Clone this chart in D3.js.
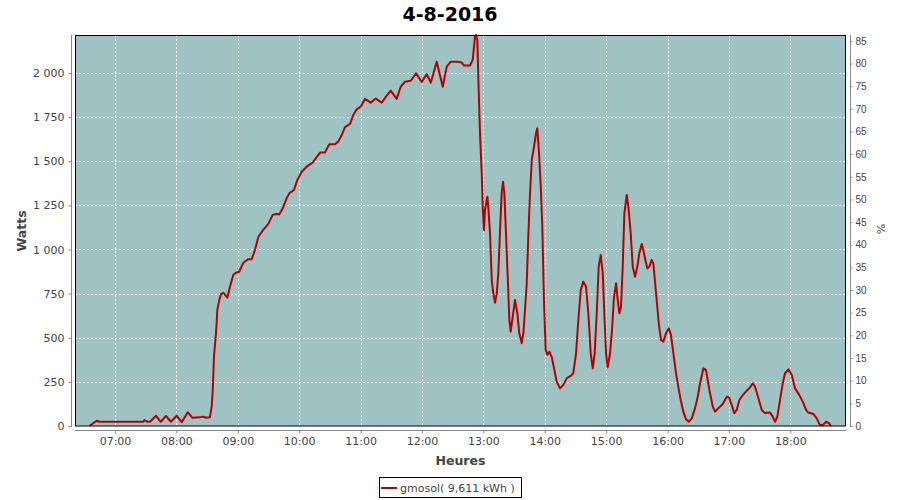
<!DOCTYPE html>
<html>
<head>
<meta charset="utf-8">
<script src="https://cdn.jsdelivr.net/npm/d3@7"></script>
<style>
  html, body { margin: 0; padding: 0; background: #ffffff; }
  svg { display: block; }
  text { font-family: "DejaVu Sans", sans-serif; }
</style>
</head>
<body>
<svg id="chart" width="900" height="500"></svg>
<script>
// ---- Data ----
const chartTitle = "4-8-2016";
const seriesName = "gmosol( 9,611 kWh )";
const yLabel = "Watts";
const y2Label = "%";
const xLabel = "Heures";

// time of each sample, minutes after midnight
const times = [
  394.9, 402.1, 404.7, 447.7, 448.8, 451.3, 454.2, 460.1, 464.7, 469.8,
  474.7, 480.3, 485.2, 491.1, 495.5, 503.1, 506.0, 508.9, 512.8, 514.5,
  515.5, 516.8, 518.7, 520.0, 521.9, 523.6, 525.8, 529.8, 532.4, 535.6,
  538.0, 541.5, 545.4, 550.3, 553.6, 556.8, 560.1, 564.9, 569.8, 574.1,
  577.4, 580.6, 583.9, 587.8, 590.4, 594.9, 598.2, 602.5, 607.3, 613.2,
  616.4, 620.4, 625.2, 629.4, 635.0, 638.2, 641.6, 644.8, 649.7, 652.9,
  656.2, 660.1, 664.3, 669.9, 674.8, 680.7, 684.9, 689.5, 695.3, 699.2,
  703.4, 709.0, 714.2, 719.8, 724.6, 728.6, 734.4, 740.3, 744.2, 748.1,
  754.0, 758.9, 761.1, 767.0, 769.6, 771.8, 772.8, 774.1, 775.5, 776.7,
  778.4, 779.4, 780.6, 781.6, 783.9, 784.8, 786.5, 788.2, 789.7, 791.4,
  793.1, 794.6, 796.3, 797.9, 799.2, 800.5, 802.1, 803.8, 805.4, 806.7,
  808.7, 810.9, 813.2, 815.1, 817.5, 819.1, 820.7, 822.4, 823.9, 825.6,
  827.3, 829.5, 831.5, 832.7, 834.4, 836.1, 837.6, 839.3, 840.9, 842.5,
  844.5, 846.8, 849.4, 851.7, 854.9, 858.2, 861.5, 865.4, 867.9, 870.6,
  872.8, 875.2, 877.7, 880.3, 882.6, 884.9, 886.9, 888.8, 890.8, 892.7,
  894.7, 896.7, 898.2, 899.9, 901.5, 903.8, 905.7, 907.7, 909.7, 911.3,
  912.9, 914.5, 916.2, 917.8, 920.1, 921.7, 924.0, 926.0, 928.2, 930.5,
  932.4, 934.8, 936.3, 938.3, 940.2, 942.2, 944.5, 946.1, 948.8, 951.4,
  953.6, 955.9, 958.5, 961.2, 963.4, 965.7, 968.3, 970.5, 972.9, 975.4,
  978.1, 980.7, 983.7, 986.9, 989.5, 991.8, 995.0, 997.6, 1000.9, 1004.2,
  1006.4, 1009.7, 1013.9, 1017.9, 1020.1, 1022.7, 1025.3, 1027.6, 1030.2, 1033.5,
  1037.4, 1040.6, 1043.3, 1045.5, 1048.8, 1052.1, 1055.3, 1060.2, 1062.8, 1065.1,
  1067.3, 1069.9, 1072.6, 1074.8, 1078.1, 1081.4, 1084.6, 1088.8, 1092.1, 1095.4,
  1097.6, 1102.5, 1105.8, 1109.0, 1111.7, 1114.9, 1118.1, 1119.5
];

// power in watts for each sample
const watts = [
  0, 30, 24, 24, 34, 24, 24, 58, 24, 57,
  24, 58, 22, 78, 47, 49, 53, 47, 50, 113,
  200, 400, 525, 657, 714, 747, 755, 727, 790, 856,
  868, 874, 925, 945, 945, 997, 1072, 1111, 1145, 1196,
  1201, 1199, 1233, 1291, 1319, 1337, 1394, 1440, 1469, 1492,
  1517, 1549, 1549, 1596, 1596, 1611, 1648, 1693, 1711, 1762,
  1794, 1809, 1853, 1832, 1855, 1832, 1866, 1900, 1853, 1922,
  1950, 1956, 1998, 1949, 1994, 1945, 2064, 1922, 2036, 2064,
  2064, 2059, 2042, 2042, 2074, 2206, 2215, 2186, 1885, 1659,
  1431, 1242, 1110, 1224, 1299, 1242, 1091, 827, 751, 698,
  751, 865, 1110, 1319, 1384, 1319, 1091, 846, 601, 534,
  620, 714, 639, 525, 469, 525, 657, 809, 1072, 1319,
  1507, 1582, 1659, 1687, 1545, 1356, 1130, 695, 431, 403,
  421, 392, 317, 251, 213, 233, 271, 284, 299, 412,
  601, 771, 818, 790, 639, 412, 327, 412, 639, 902,
  969, 865, 639, 412, 332, 412, 543, 732, 809, 714,
  639, 676, 902, 1205, 1309, 1242, 1091, 902, 846, 902,
  979, 1031, 997, 941, 893, 902, 941, 922, 751, 582,
  487, 478, 525, 553, 515, 412, 299, 222, 147, 81,
  38, 24, 43, 101, 166, 242, 327, 317, 204, 110,
  81, 101, 125, 166, 162, 119, 73, 91, 147, 175,
  200, 219, 242, 222, 157, 91, 73, 76, 53, 24,
  53, 147, 242, 299, 321, 289, 213, 175, 138, 91,
  76, 68, 43, 5, 5, 24, 15, 0
];

const leftTicks = [0, 250, 500, 750, 1000, 1250, 1500, 1750, 2000];
const rightTicks = [0, 5, 10, 15, 20, 25, 30, 35, 40, 45, 50, 55, 60, 65, 70, 75, 80, 85];
const hourTicks = [7, 8, 9, 10, 11, 12, 13, 14, 15, 16, 17, 18];

// ---- Layout ----
const plot = { left: 75, right: 846, top: 35, bottom: 426 };
const day = new Date(2016, 7, 4);
const toDate = m => new Date(day.getTime() + m * 60000);

const x = d3.scaleTime()
  .domain([toDate(380.9), toDate(1134.4)])
  .range([plot.left, plot.right]);
const y = d3.scaleLinear().domain([0, 2215]).range([plot.bottom, plot.top]);
const y2 = d3.scaleLinear().domain([0, 86.3]).range([plot.bottom, plot.top]);

const locale = d3.formatLocale({ decimal: ",", thousands: "\u00a0", grouping: [3], currency: ["", ""] });
const fmtW = locale.format(",d");

const svg = d3.select("#chart");
const textColor = "#444444";
const axisColor = "#888888";

// Title
svg.append("text")
  .attr("x", 450).attr("y", 21)
  .attr("text-anchor", "middle")
  .style("font-size", "19px").style("font-weight", "bold")
  .attr("fill", "#000")
  .text(chartTitle);

// Plot background
svg.append("rect")
  .attr("x", plot.left).attr("y", plot.top)
  .attr("width", plot.right - plot.left).attr("height", plot.bottom - plot.top)
  .attr("fill", "#9fc3c3");

// Gridlines
const grid = svg.append("g").attr("stroke", "#ffffff").attr("stroke-width", 1)
  .attr("stroke-dasharray", "2,2").attr("shape-rendering", "crispEdges");
hourTicks.forEach(h => {
  const px = Math.round(x(toDate(h * 60))) + 0.5;
  grid.append("line").attr("x1", px).attr("x2", px).attr("y1", plot.top).attr("y2", plot.bottom);
});
leftTicks.filter(v => v > 0).forEach(v => {
  const py = Math.round(y(v)) + 0.5;
  grid.append("line").attr("x1", plot.left).attr("x2", plot.right).attr("y1", py).attr("y2", py);
});

// Line
svg.append("clipPath").attr("id", "clip")
  .append("rect").attr("x", plot.left).attr("y", plot.top - 1)
  .attr("width", plot.right - plot.left).attr("height", plot.bottom - plot.top + 1);

const data = times.map((t, i) => ({ t: toDate(t), w: watts[i] }));
const line = d3.line().x(d => x(d.t)).y(d => y(d.w));
svg.append("path")
  .datum(data)
  .attr("clip-path", "url(#clip)")
  .attr("fill", "none")
  .attr("stroke", "#b30000")
  .attr("stroke-width", 2)
  .attr("stroke-linejoin", "round")
  .attr("d", line);

// Plot border
svg.append("rect")
  .attr("x", plot.left + 0.5).attr("y", plot.top + 0.5)
  .attr("width", plot.right - plot.left - 1).attr("height", plot.bottom - plot.top - 0.5)
  .attr("fill", "none").attr("stroke", "#000").attr("stroke-width", 1);

// Left axis
const yAxis = d3.axisLeft(y).tickValues(leftTicks).tickFormat(fmtW).tickSize(3).tickPadding(4);
const gL = svg.append("g").attr("transform", "translate(71.5,0)").call(yAxis);
gL.select(".domain").attr("stroke", axisColor).attr("d", `M0,${plot.top}V${plot.bottom + 1}`);
gL.selectAll(".tick line").attr("stroke", axisColor);
gL.selectAll(".tick text").attr("fill", textColor).style("font-size", "11px")
  .style("font-family", "DejaVu Sans, sans-serif");

// Right axis
const y2Axis = d3.axisRight(y2).tickValues(rightTicks).tickFormat(d3.format("d")).tickSize(2).tickPadding(3);
const gR = svg.append("g").attr("transform", "translate(850.5,0)").call(y2Axis);
gR.select(".domain").attr("stroke", axisColor).attr("d", `M0,${plot.top}V${plot.bottom + 1}`);
gR.selectAll(".tick line").attr("stroke", axisColor);
gR.selectAll(".tick text").attr("fill", textColor).style("font-size", "10px")
  .style("font-family", "Liberation Sans, Arial, sans-serif");

// Bottom axis
const xAxis = d3.axisBottom(x)
  .tickValues(hourTicks.map(h => toDate(h * 60)))
  .tickFormat(d3.timeFormat("%H:%M")).tickSize(3).tickPadding(4);
const gB = svg.append("g").attr("transform", "translate(0,430.5)").call(xAxis);
gB.select(".domain").attr("stroke", axisColor).attr("d", `M${plot.left},0H${plot.right}`);
gB.selectAll(".tick line").attr("stroke", axisColor);
gB.selectAll(".tick text").attr("fill", textColor).style("font-size", "11px")
  .style("font-family", "DejaVu Sans, sans-serif");

// Axis titles
svg.append("text")
  .attr("transform", "translate(25.5,231) rotate(-90)")
  .attr("text-anchor", "middle")
  .style("font-size", "12.5px").style("font-weight", "bold")
  .attr("fill", textColor)
  .text(yLabel);

svg.append("text")
  .attr("transform", "translate(877,229) rotate(90)")
  .attr("text-anchor", "middle")
  .style("font-size", "11px")
  .attr("fill", textColor)
  .text(y2Label);

svg.append("text")
  .attr("x", (plot.left + plot.right) / 2).attr("y", 465)
  .attr("text-anchor", "middle")
  .style("font-size", "12.5px").style("font-weight", "bold")
  .attr("fill", textColor)
  .text(xLabel);

// Legend
const lg = svg.append("g");
lg.append("rect")
  .attr("x", 379.5).attr("y", 477.5).attr("width", 142).attr("height", 20)
  .attr("fill", "#fff").attr("stroke", "#000").attr("stroke-width", 1);
lg.append("line")
  .attr("x1", 381).attr("x2", 397).attr("y1", 488).attr("y2", 488)
  .attr("stroke", "#b30000").attr("stroke-width", 2);
lg.append("text")
  .attr("x", 400).attr("y", 492)
  .style("font-size", "11px")
  .attr("fill", textColor)
  .text(seriesName);
</script>
</body>
</html>
